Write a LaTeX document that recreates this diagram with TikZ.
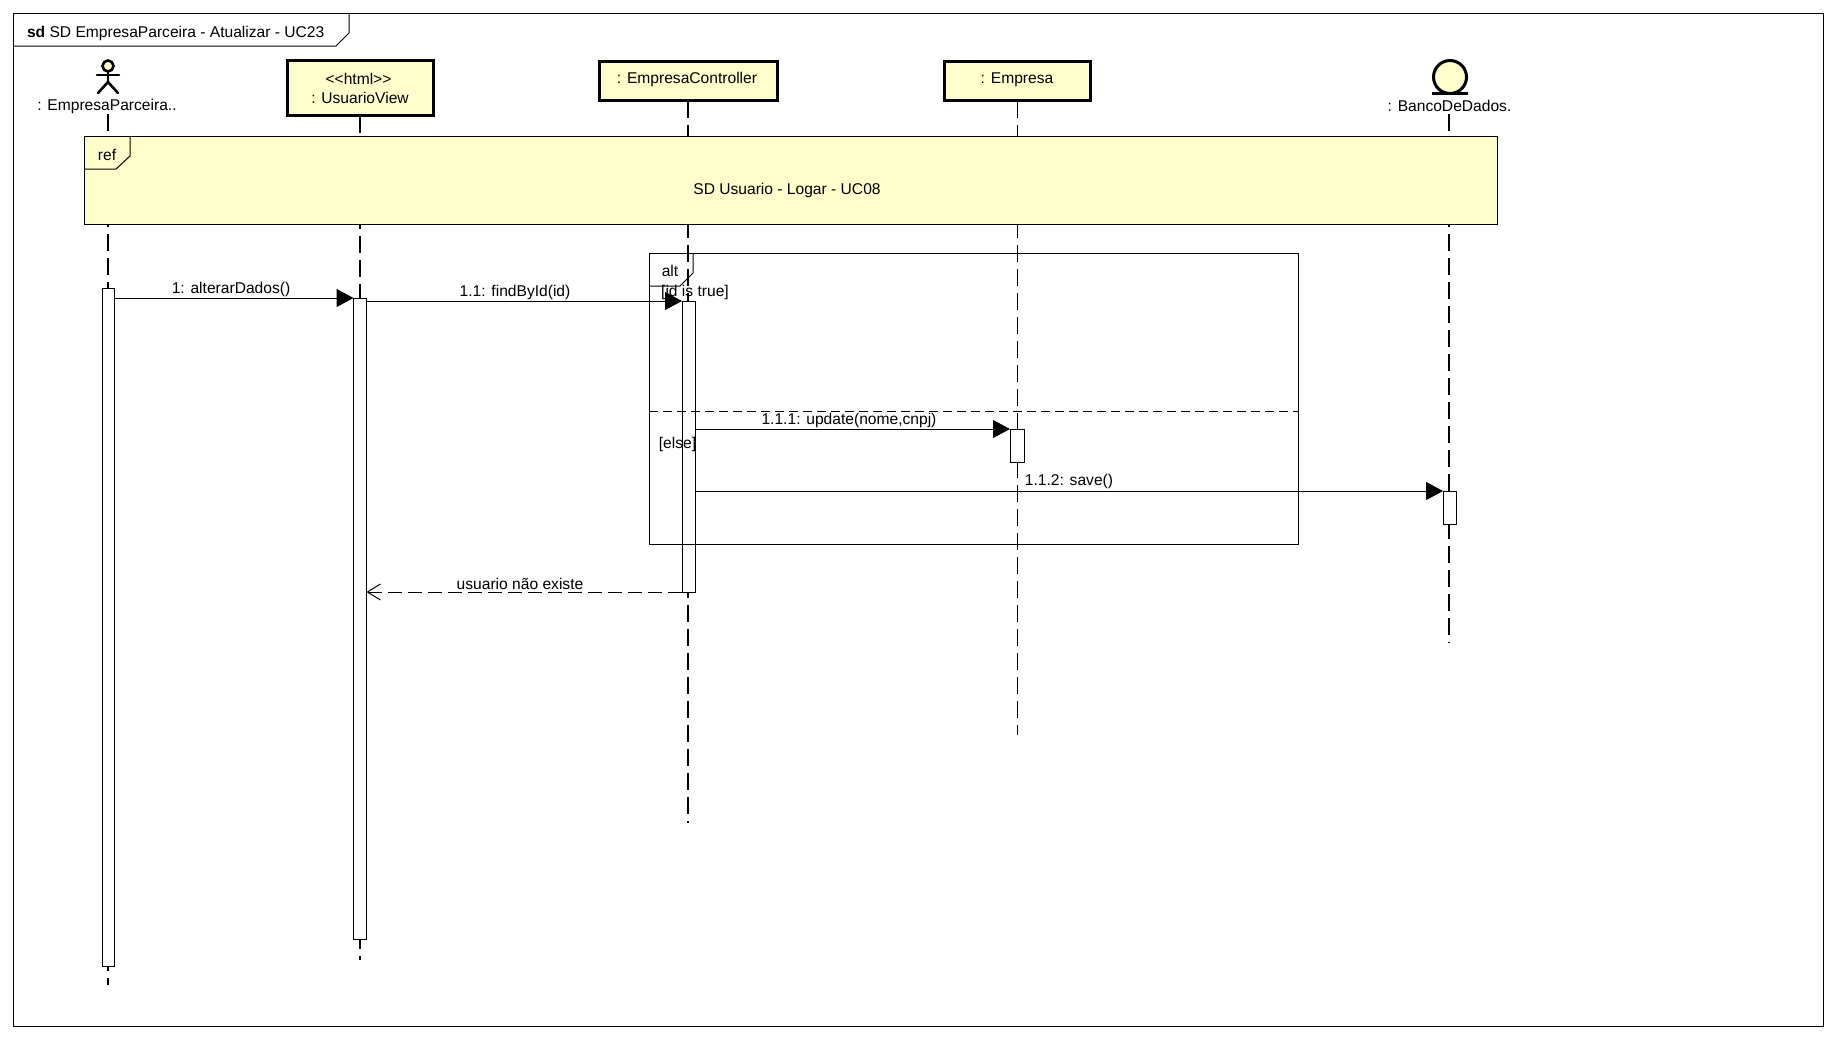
\documentclass[tikz,border=0pt]{standalone}
\usepackage{fontspec}
\setmainfont{Liberation Sans}
\usetikzlibrary{arrows.meta,calc}
\definecolor{umlyellow}{HTML}{FFFFCC}
\tikzset{
  x=0.5pt,y=-0.5pt,
  every node/.style={font=\fontsize{7.8}{9.5}\selectfont,inner sep=0pt,outer sep=0pt},
  thin line/.style={line width=0.5pt,draw=black},
  lifeline/.style={line width=0.55pt,draw=black,dash pattern=on 8.5pt off 3.5pt},
  lifebox/.style={draw=black,line width=1.5pt,fill=umlyellow,align=center,anchor=north west},
  actbar/.style={draw=black,line width=0.5pt,fill=white,anchor=north west},
  msg/.style={line width=0.5pt,draw=black,-{Triangle[length=8.5pt,width=9pt]}},
  retmsg/.style={line width=0.5pt,draw=black,dash pattern=on 7pt off 3pt,-{Straight Barb[length=6.5pt,width=8pt,line width=0.5pt]}},
  framebox/.style={draw=black,line width=0.5pt,anchor=north west},
  figure line/.style={line width=1.3pt,draw=black,line cap=round},
}
\begin{document}
\begin{tikzpicture}
\useasboundingbox (0,0) rectangle (1836,1040);
% outer frame
\node[framebox,minimum width=1810*0.5pt,minimum height=1013*0.5pt] (outer) at (13,13) {};
\draw[thin line] (13,46) -- (336,46) -- (349,33) -- (349,13);
\node[anchor=west] (title) at (27,33) {\textbf{sd} SD EmpresaParceira - Atualizar - UC23};

% lifeline heads
\node[lifebox,minimum width=146*0.5pt,minimum height=55*0.5pt] (view) at (287,60) {};
\node (viewa) at (358.5,78.5) {<{}<html>{}>};
\node (viewb) at (360,98) {: UsuarioView};
\node[lifebox,minimum width=178*0.5pt,minimum height=39*0.5pt] (ctrl) at (599,61) {};
\node (ctrlt) at (687,79) {: EmpresaController};
\node[lifebox,minimum width=146*0.5pt,minimum height=39*0.5pt] (emp) at (944,61) {};
\node (empt) at (1017,80) {: Empresa};

% actor
\node[draw=black,line width=1.3pt,fill=umlyellow,circle,minimum size=11*0.5pt] (head) at (108,66) {};
\coordinate (hip) at (108,82);
\draw[figure line] (head.south) -- (hip);
\draw[figure line] (97,75) -- (119,75);
\draw[figure line] (98,93) -- (hip) -- (118,93);
\node (actor) at (107,106) {: EmpresaParceira..};

% entity
\node[draw=black,line width=1.5pt,fill=umlyellow,circle,minimum size=33*0.5pt] (ent) at (1450,77) {};
\draw[line width=1.5pt] (1432,93) -- (1468,93);
\node (bank) at (1449.5,105.5) {: BancoDeDados.};

% lifeline ends
\coordinate (actorend) at (108,985);
\coordinate (viewend) at (360,960);
\coordinate (ctrlend) at (688,823);
\coordinate (empend) at (1017.5,735);
\coordinate (bankend) at (1449,643);
\draw[lifeline] (108,114) -- (actorend);
\draw[lifeline] (360,116) -- (viewend);
\draw[lifeline] (688,101) -- (ctrlend);
\draw[lifeline] (1017.5,101) -- (empend);
\draw[lifeline] (1449,114) -- (bankend);

% ref
\node[framebox,fill=umlyellow,minimum width=1413*0.5pt,minimum height=88*0.5pt] (ref) at (84,136) {};
\draw[thin line] (84,169) -- (116,169) -- (130,156) -- (130,136);
\node (reft) at (107,155) {ref};
\node (refc) at (787,190) {SD Usuario - Logar - UC08};

% activation bars
\node[actbar,minimum width=12*0.5pt,minimum height=678*0.5pt] (aA) at (102,288) {};
\node[actbar,minimum width=13*0.5pt,minimum height=641*0.5pt] (aV) at (353.5,298) {};
\node[actbar,minimum width=13*0.5pt,minimum height=291*0.5pt] (aC) at (682,301) {};
\node[actbar,minimum width=14*0.5pt,minimum height=33*0.5pt] (aE) at (1010,429) {};
\node[actbar,minimum width=13*0.5pt,minimum height=33*0.5pt] (aB) at (1443,491) {};

% alt
\node[framebox,minimum width=649*0.5pt,minimum height=291*0.5pt] (alt) at (649,253) {};
\draw[thin line] (649,286) -- (680,286) -- (693,273) -- (693,253);
\draw[thin line,dash pattern=on 4.5pt off 2.5pt] (649,411.5) -- (1298,411.5);
\node (altt) at (670,271) {alt};
\node (g1) at (695,292) {[id is true]};
\node (g2) at (677.5,444.5) {[else]};

% messages
\draw[msg] (aA.east |- aV.north west) -- (aV.north west);
\node (m1) at (231,289.5) {1: alterarDados()};
\draw[msg] (aV.east |- aC.north west) -- (aC.north west);
\node (m2) at (515,292.5) {1.1: findById(id)};
\draw[msg] (aC.east |- aE.north west) -- (aE.north west);
\node (m3) at (849,420.5) {1.1.1: update(nome,cnpj)};
\draw[msg] (aC.east |- aB.north west) -- (aB.north west);
\node (m4) at (1069,481) {1.1.2: save()};
\draw[retmsg] (aC.south west) -- (aV.east |- aC.south west);
\node (m5) at (520,583.5) {usuario não existe};
\end{tikzpicture}
\end{document}
